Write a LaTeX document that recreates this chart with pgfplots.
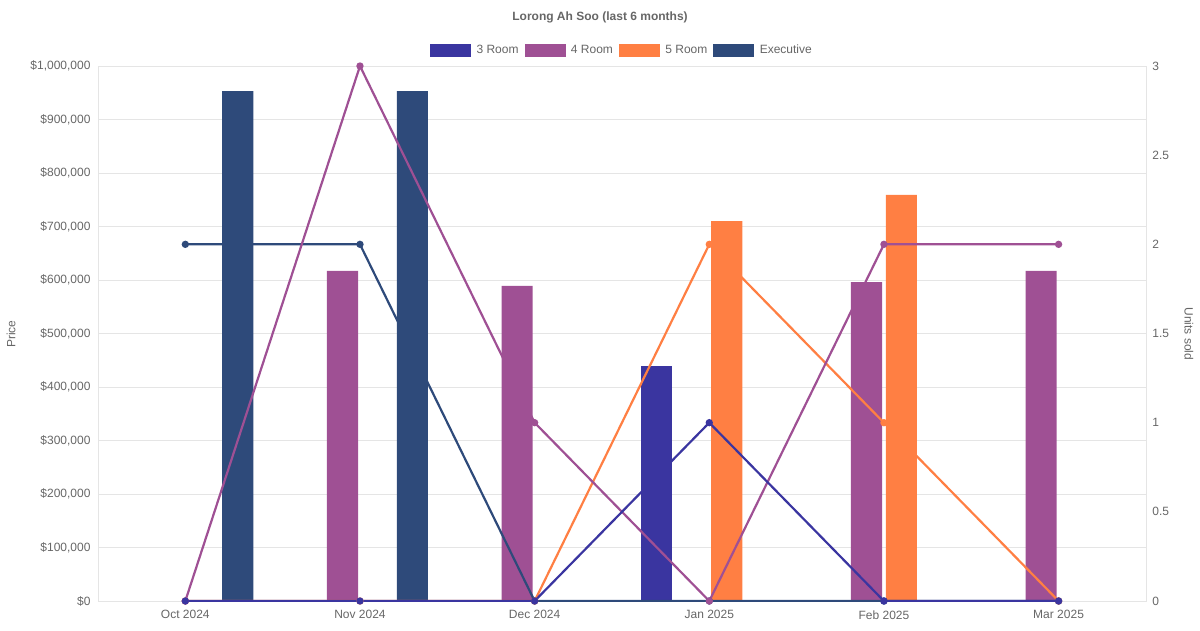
\documentclass[border=0pt]{standalone}
\usepackage{pgfplots}
\pgfplotsset{compat=1.18}
\usepackage{fontspec}
\setmainfont{Liberation Sans}
\definecolor{cA}{HTML}{3A35A0}
\definecolor{cB}{HTML}{9F5094}
\definecolor{cC}{HTML}{FF7F43}
\definecolor{cD}{HTML}{2E4A7A}
\definecolor{txt}{HTML}{666666}
\definecolor{grd}{HTML}{E5E5E5}
\begin{document}
\begin{tikzpicture}[x=1pt,y=1pt]
\path[use as bounding box] (-98,-29) rectangle (1102,601);
\pgfplotsset{base/.style={
  scale only axis, width=1048pt, height=535pt, at={(0,0)}, anchor=south west,
  xmin=-0.5, xmax=5.5, xtick={0,...,5},
  xticklabels={Oct 2024,Nov 2024,Dec 2024,Jan 2025,Feb 2025,Mar 2025},
  ticklabel style={font=\fontsize{12}{14}\selectfont, text=txt},
  xticklabel style={yshift=-6pt},
  /pgf/number format/assume math mode=true,
  axis line style={grd}, major tick length=0pt}}
\begin{axis}[base, ymin=0, ymax=1000000, ytick={0,100000,...,1000000},
  yticklabels={\$0,\$100{,}000,\$200{,}000,\$300{,}000,\$400{,}000,\$500{,}000,\$600{,}000,\$700{,}000,\$800{,}000,\$900{,}000,\$1{,}000{,}000},
  yticklabel style={xshift=-4pt},
  ymajorgrids, grid style={grd},
  scaled y ticks=false, ybar, bar width=0.178,
  legend columns=4, legend style={at={(524pt,551pt)}, anchor=center, draw=none,
    font=\fontsize{12}{14}\selectfont, text=txt, column sep=4pt},
  legend image code/.code={\fill[#1] (0pt,-6pt) rectangle (40pt,6pt);}]
\addlegendimage{cA}\addlegendentry{3 Room}
\addlegendimage{cB}\addlegendentry{4 Room}
\addlegendimage{cC}\addlegendentry{5 Room}
\addlegendimage{cD}\addlegendentry{Executive}
\addplot[fill=cA, draw=none, bar shift=-0.3] coordinates {(3,440000)};
\addplot[fill=cB, draw=none, bar shift=-0.1] coordinates {(1,617000)(2,589000)(4,596000)(5,617000)};
\addplot[fill=cC, draw=none, bar shift=0.1] coordinates {(3,710000)(4,759000)};
\addplot[fill=cD, draw=none, bar shift=0.3] coordinates {(0,953000)(1,953000)};
\end{axis}
\begin{axis}[base, axis y line*=right, axis x line=none, ymin=0, ymax=3, ytick={0,0.5,...,3},
  yticklabels={0,0.5,1,1.5,2,2.5,3}, yticklabel style={xshift=3pt}]
\addplot[cD, line width=2.2pt, mark=*, mark size=2.5pt] coordinates {(0,2)(1,2)(2,0)(3,0)(4,0)(5,0)};
\addplot[cC, line width=2.2pt, mark=*, mark size=2.5pt] coordinates {(0,0)(1,0)(2,0)(3,2)(4,1)(5,0)};
\addplot[cB, line width=2.2pt, mark=*, mark size=2.5pt] coordinates {(0,0)(1,3)(2,1)(3,0)(4,2)(5,2)};
\addplot[cA, line width=2.2pt, mark=*, mark size=2.5pt] coordinates {(0,0)(1,0)(2,0)(3,1)(4,0)(5,0)};
\end{axis}
\node[font=\bfseries\fontsize{12}{14}\selectfont, text=txt] at (502,584) {Lorong Ah Soo (last 6 months)};
\node[font=\fontsize{12}{14}\selectfont, text=txt, rotate=90] at (-87,267) {Price};
\node[font=\fontsize{12}{14}\selectfont, text=txt, rotate=-90] at (1091,267) {Units sold};
\end{tikzpicture}
\end{document}
